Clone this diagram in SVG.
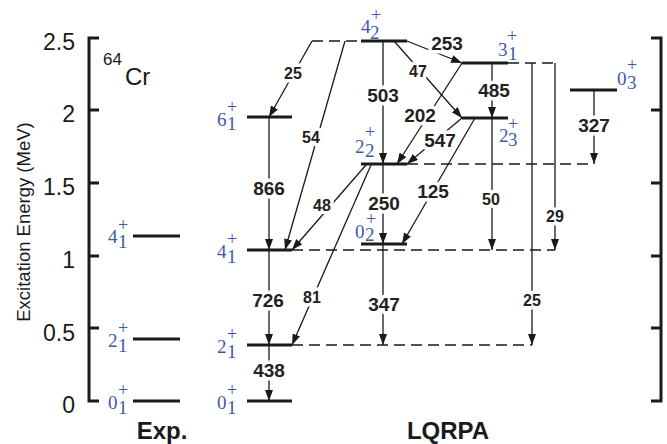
<svg xmlns="http://www.w3.org/2000/svg" width="667" height="444" viewBox="0 0 667 444">
<style>
.ax{stroke:#1a1a1a;stroke-width:3;fill:none}
.lvl{stroke:#1a1a1a;stroke-width:3}
.c{stroke:#1a1a1a;stroke-width:1.3;fill:none}
.ca{marker-end:url(#ah)}
.d{stroke-dasharray:11 6}
.n{font-family:"Liberation Sans",Arial,sans-serif;font-weight:bold;font-size:19px;fill:#222;text-anchor:middle;stroke:#fff;stroke-width:7;stroke-linejoin:round;paint-order:stroke}
.ns{font-size:16px}
.lb{font-family:"Liberation Serif","Times New Roman",serif;font-size:19px;fill:#3c5aa8}
.pl{font-size:18px;text-anchor:middle}
.tk{font-family:"Liberation Sans",Arial,sans-serif;font-size:23px;fill:#1a1a1a;text-anchor:end}
.ti{font-family:"Liberation Sans",Arial,sans-serif;font-weight:bold;font-size:24px;fill:#1a1a1a;text-anchor:middle}
</style>
<defs>
<marker id="ah" markerUnits="userSpaceOnUse" markerWidth="11" markerHeight="8" refX="11" refY="4" orient="auto"><path d="M0,0 L11,4 L0,8 z" fill="#1a1a1a"/></marker>
</defs>
<g id="axes">
<path class="ax" d="M99,38 H89 V401 H99 M89,110 H99 M89,183 H99 M89,256 H99 M89,328 H99"/>
<path class="ax" d="M651,38 H661 V401 H651 M651,110 H661 M651,183 H661 M651,256 H661 M651,328 H661"/>
<text class="tk" x="75" y="50">2.5</text>
<text class="tk" x="75" y="122">2</text>
<text class="tk" x="75" y="195">1.5</text>
<text class="tk" x="75" y="268">1</text>
<text class="tk" x="75" y="341">0.5</text>
<text class="tk" x="75" y="413">0</text>
<text font-family="Liberation Sans,Arial,sans-serif" font-size="18.5" fill="#1a1a1a" text-anchor="middle" transform="translate(30,222) rotate(-90)">Excitation Energy (MeV)</text>
<text font-family="Liberation Sans,Arial,sans-serif" fill="#1a1a1a"><tspan x="103" y="65" font-size="17">64</tspan><tspan x="125" y="85" font-size="24">Cr</tspan></text>
<text class="ti" x="162" y="439">Exp.</text>
<text class="ti" x="448" y="439">LQRPA</text>
</g>
<g id="connectors">
<path class="c d" d="M312,41 H361 M508,63 H555 M407,164 H594 M292,250 H555 M292,345 H532"/>
<path class="c ca" d="M269,117 V250"/>
<path class="c ca" d="M269,250 V345"/>
<path class="c ca" d="M269,345 V401"/>
<path class="c ca" d="M383,41 V164"/>
<path class="c ca" d="M383,164 V244"/>
<path class="c ca" d="M383,244 V345"/>
<path class="c ca" d="M492,63 V118"/>
<path class="c ca" d="M492,118 V250"/>
<path class="c ca" d="M532,63 V345"/>
<path class="c ca" d="M555,63 V250"/>
<path class="c ca" d="M594,90 V164"/>
<path class="c ca" d="M312,41 L269,117"/>
<path class="c ca" d="M345,41 L285,250"/>
<path class="c ca" d="M407,41 L462,63"/>
<path class="c ca" d="M394,41 L462,118"/>
<path class="c ca" d="M462,63 L397,164"/>
<path class="c ca" d="M462,118 L407,164"/>
<path class="c ca" d="M475,118 L402,244"/>
<path class="c ca" d="M366,165 L292,250"/>
<path class="c ca" d="M371,165 L292,345"/>
<text class="n" x="269" y="195">866</text>
<text class="n" x="268" y="307">726</text>
<text class="n" x="269" y="377">438</text>
<text class="n" x="383" y="102">503</text>
<text class="n" x="384" y="210">250</text>
<text class="n" x="384" y="311">347</text>
<text class="n" x="494" y="97">485</text>
<text class="n" x="594" y="132">327</text>
<text class="n" x="447" y="50">253</text>
<text class="n" x="420" y="122">202</text>
<text class="n" x="440" y="147">547</text>
<text class="n" x="433" y="198">125</text>
<text class="n ns" x="293" y="79">25</text>
<text class="n ns" x="311" y="143">54</text>
<text class="n ns" x="418" y="77">47</text>
<text class="n ns" x="322" y="211">48</text>
<text class="n ns" x="312" y="303">81</text>
<text class="n ns" x="491" y="205">50</text>
<text class="n ns" x="555" y="222">29</text>
<text class="n ns" x="532" y="306">25</text>
</g>
<g id="exp-4-1"><path class="lvl" d="M133,236 H180"/><text class="lb"><tspan x="108" y="243">4</tspan><tspan x="118" y="248">1</tspan><tspan class="pl" x="123" y="231">+</tspan></text></g>
<g id="exp-2-1"><path class="lvl" d="M133,339 H180"/><text class="lb"><tspan x="108" y="347">2</tspan><tspan x="118" y="352">1</tspan><tspan class="pl" x="123" y="334">+</tspan></text></g>
<g id="exp-0-1"><path class="lvl" d="M133,401 H180"/><text class="lb"><tspan x="108" y="409">0</tspan><tspan x="118" y="414">1</tspan><tspan class="pl" x="123" y="396">+</tspan></text></g>
<g id="lq-6-1"><path class="lvl" d="M247,117 H292"/><text class="lb"><tspan x="217" y="126">6</tspan><tspan x="227" y="130">1</tspan><tspan class="pl" x="232" y="113">+</tspan></text></g>
<g id="lq-4-1"><path class="lvl" d="M247,250 H292"/><text class="lb"><tspan x="217" y="258">4</tspan><tspan x="227" y="263">1</tspan><tspan class="pl" x="232" y="245">+</tspan></text></g>
<g id="lq-2-1"><path class="lvl" d="M247,345 H292"/><text class="lb"><tspan x="217" y="353">2</tspan><tspan x="227" y="358">1</tspan><tspan class="pl" x="232" y="340">+</tspan></text></g>
<g id="lq-0-1"><path class="lvl" d="M247,401 H292"/><text class="lb"><tspan x="217" y="409">0</tspan><tspan x="227" y="414">1</tspan><tspan class="pl" x="232" y="396">+</tspan></text></g>
<g id="lq-4-2"><path class="lvl" d="M361,41 H407"/><text class="lb"><tspan x="361" y="33">4</tspan><tspan x="370" y="39">2</tspan><tspan class="pl" x="376" y="21">+</tspan></text></g>
<g id="lq-2-2"><path class="lvl" d="M361,164 H407"/><text class="lb"><tspan x="355" y="153">2</tspan><tspan x="365" y="157">2</tspan><tspan class="pl" x="370" y="138">+</tspan></text></g>
<g id="lq-0-2"><path class="lvl" d="M361,244 H407"/><text class="lb"><tspan x="355" y="238">0</tspan><tspan x="365" y="241">2</tspan><tspan class="pl" x="371" y="225">+</tspan></text></g>
<g id="lq-3-1"><path class="lvl" d="M462,63 H508"/><text class="lb"><tspan x="498" y="56">3</tspan><tspan x="508" y="60">1</tspan><tspan class="pl" x="512" y="42">+</tspan></text></g>
<g id="lq-2-3"><path class="lvl" d="M462,118 H508"/><text class="lb"><tspan x="499" y="142">2</tspan><tspan x="508" y="146">3</tspan><tspan class="pl" x="513" y="130">+</tspan></text></g>
<g id="lq-0-3"><path class="lvl" d="M570,90 H617"/><text class="lb"><tspan x="617" y="85">0</tspan><tspan x="627" y="89">3</tspan><tspan class="pl" x="632" y="71">+</tspan></text></g>
</svg>
